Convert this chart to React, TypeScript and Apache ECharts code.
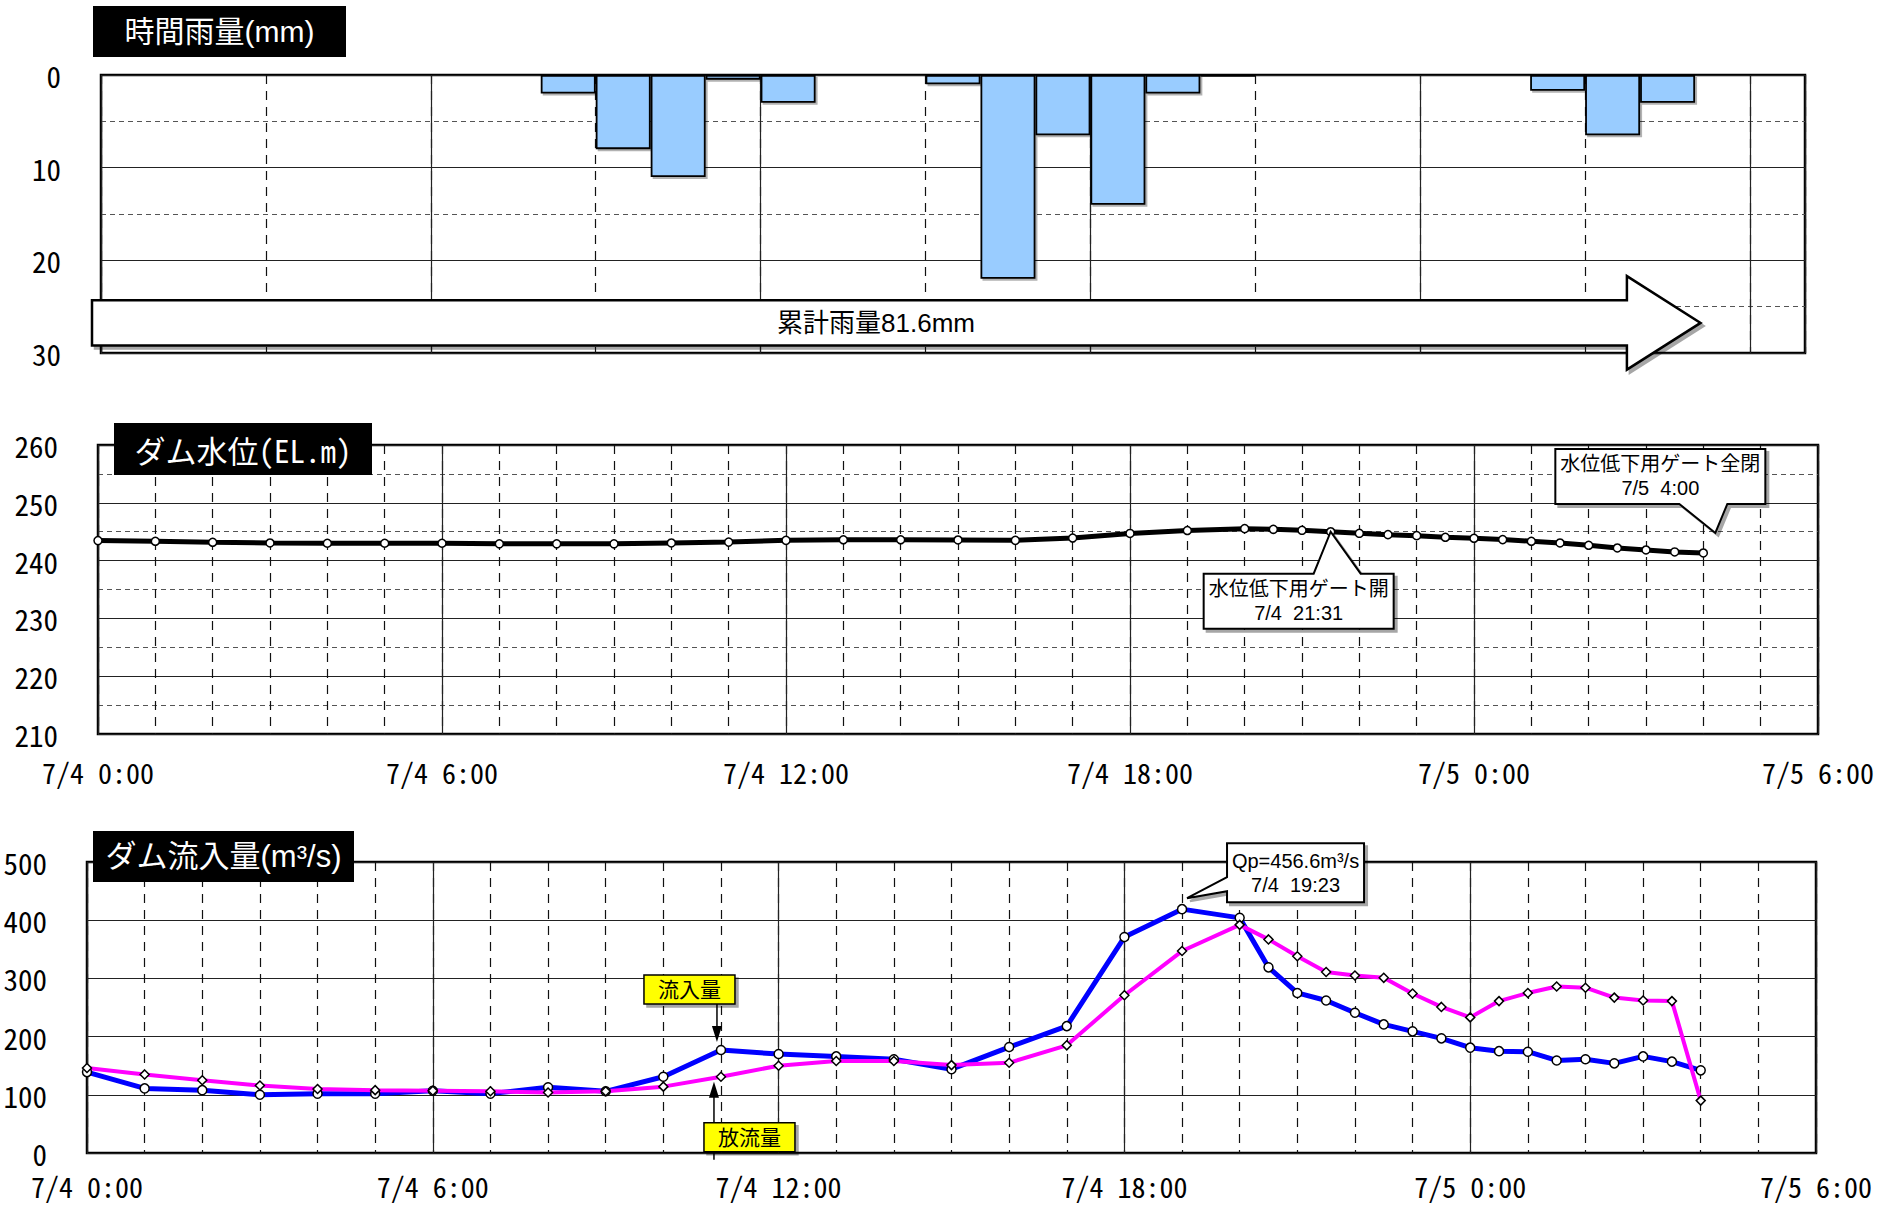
import React, { useEffect, useRef } from "react";
import * as echarts from "echarts";

const MONO = "'Noto Sans Mono CJK JP', 'DejaVu Sans Mono', monospace";
const CJK = "'Liberation Sans', 'Noto Sans CJK JP', sans-serif";

// ---- data ----
const rainCategories = [
  "0:00", "1:00", "2:00", "3:00", "4:00", "5:00", "6:00", "7:00", "8:00", "9:00",
  "10:00", "11:00", "12:00", "13:00", "14:00", "15:00", "16:00", "17:00", "18:00", "19:00",
  "20:00", "21:00", "22:00", "23:00", "0:00+", "1:00+", "2:00+", "3:00+", "4:00+", "5:00+", "6:00+",
];
const rainValues: (number | null)[] = [
  null, null, null, null, null, null, null, 0.1, 2, 8,
  11, 0.5, 3, null, null, 1, 22, 6.5, 14, 2,
  0.2, null, null, 0.1, null, null, 1.7, 6.5, 3, null, null,
];
const rainTotalLabel = "累計雨量81.6mm";

// hours since 7/4 0:00
const times = [
  0, 1, 2, 3, 4, 5, 6, 7, 8, 9, 10, 11, 12, 13, 14, 15, 16, 17, 18, 19, 20,
  20.5, 21, 21.5, 22, 22.5, 23, 23.5, 24, 24.5, 25, 25.5, 26, 26.5, 27, 27.5, 28,
];
const levelValues = [
  243.46, 243.34, 243.17, 243.05, 243.0, 243.0, 243.0, 242.9, 242.9, 242.9, 243.05,
  243.2, 243.5, 243.6, 243.6, 243.57, 243.5, 243.9, 244.7, 245.2, 245.53,
  245.41, 245.24, 245.0, 244.72, 244.49, 244.32, 244.03, 243.86, 243.63, 243.34,
  243.05, 242.65, 242.19, 241.84, 241.5, 241.32,
];
const inflowValues = [
  139, 111, 108, 100, 102, 102, 107, 102, 113, 106, 131, 177, 170, 166, 161, 144,
  182, 218, 371, 419, 404, 319, 275, 262, 241, 221, 209, 197, 181, 175, 174, 159,
  161, 154, 166, 157, 142,
];
const outflowValues = [
  146, 135, 125, 116, 110, 108, 107, 106, 104, 106, 114, 131, 150, 158, 158, 151,
  155, 185, 271, 347, 392, 367, 338, 311, 305, 301, 274, 251, 233, 261, 275, 286,
  284, 267, 262, 261, 90,
];
const xTickLabels = ["7/4 0:00", "7/4 6:00", "7/4 12:00", "7/4 18:00", "7/5 0:00", "7/5 6:00"];

const pair = (vals: number[]) => times.map((t, i) => [t, vals[i]]);

export default function App() {
  const ref = useRef<HTMLDivElement>(null);
  useEffect(() => {
    document.body.style.margin = "0";
    document.body.style.overflow = "hidden";
    const chart = echarts.init(ref.current!, undefined, { renderer: "svg" });

    const dashV = { show: true, lineStyle: { color: "#111", width: 1.2, type: [9, 7] as any } };
    const dashH = { show: true, lineStyle: { color: "#555", width: 1.2, type: [5, 4] as any } };
    const solid = { show: true, lineStyle: { color: "#222", width: 1.2, type: "solid" as any } };
    const hidden = { axisLine: { show: false }, axisTick: { show: false }, axisLabel: { show: false } };
    const yLabel = { show: true, fontSize: 29, lineHeight: 24, fontFamily: MONO, color: "#000", margin: 40 };
    const xLabel = (margin: number) => ({
      show: true, fontSize: 28, lineHeight: 24, fontFamily: MONO, color: "#000", margin,
      formatter: (v: number) => xTickLabels[Math.round(v / 6)] ?? "",
    });

    const option: any = {
      animation: false,
      backgroundColor: "#fff",
      grid: [
        { left: 101, top: 75, width: 1704, height: 278, show: true, borderColor: "#000", borderWidth: 2.5 },
        { left: 98, top: 445, width: 1720, height: 289, show: true, borderColor: "#000", borderWidth: 2.5 },
        { left: 87, top: 862, width: 1729, height: 291, show: true, borderColor: "#000", borderWidth: 2.5 },
      ],
      xAxis: [
        { gridIndex: 0, type: "category", position: "bottom", data: rainCategories, boundaryGap: true, ...hidden, splitLine: { show: false } },
        { gridIndex: 0, type: "value", position: "bottom", min: 0, max: 31, interval: 3, ...hidden, splitLine: dashV },
        { gridIndex: 0, type: "value", position: "bottom", min: 0, max: 31, interval: 6, ...hidden, splitLine: solid },
        { gridIndex: 1, type: "value", position: "bottom", min: 0, max: 30, interval: 1, ...hidden, splitLine: dashV },
        { gridIndex: 1, type: "value", position: "bottom", min: 0, max: 30, interval: 6, axisLine: { show: false }, axisTick: { show: false }, axisLabel: xLabel(26), splitLine: solid },
        { gridIndex: 2, type: "value", position: "bottom", min: 0, max: 30, interval: 6 * 1, ...hidden, splitLine: { show: false } },
        { gridIndex: 2, type: "value", position: "bottom", min: 0, max: 30, interval: 1, ...hidden, splitLine: dashV },
        { gridIndex: 2, type: "value", position: "bottom", min: 0, max: 30, interval: 6, axisLine: { show: false }, axisTick: { show: false }, axisLabel: xLabel(21), splitLine: solid },
      ],
      yAxis: [
        { gridIndex: 0, type: "value", position: "left", inverse: true, min: 0, max: 30, interval: 5, ...hidden, splitLine: dashH },
        { gridIndex: 0, type: "value", position: "left", inverse: true, min: 0, max: 30, interval: 10, axisLine: { show: false }, axisTick: { show: false }, axisLabel: yLabel, splitLine: solid },
        { gridIndex: 1, type: "value", position: "left", min: 210, max: 260, interval: 5, ...hidden, splitLine: dashH },
        { gridIndex: 1, type: "value", position: "left", min: 210, max: 260, interval: 10, axisLine: { show: false }, axisTick: { show: false }, axisLabel: yLabel, splitLine: solid },
        { gridIndex: 2, type: "value", position: "left", min: 0, max: 500, interval: 100, axisLine: { show: false }, axisTick: { show: false }, axisLabel: yLabel, splitLine: solid },
      ],
      series: [
        {
          type: "bar", name: "時間雨量", xAxisIndex: 0, yAxisIndex: 1, data: rainValues,
          barCategoryGap: "0%",
          itemStyle: { color: "#99CCFF", borderColor: "#000", borderWidth: 1.8, shadowColor: "rgba(0,0,0,0.3)", shadowOffsetX: 2, shadowOffsetY: 2 },
        },
        {
          type: "line", name: "ダム水位", xAxisIndex: 4, yAxisIndex: 3, data: pair(levelValues),
          lineStyle: { color: "#000", width: 5 },
          symbol: "circle", symbolSize: 8,
          itemStyle: { color: "#fff", borderColor: "#000", borderWidth: 1.5 },
        },
        {
          type: "line", name: "流入量", xAxisIndex: 7, yAxisIndex: 4, data: pair(inflowValues),
          lineStyle: { color: "#0000FF", width: 5 },
          symbol: "circle", symbolSize: 9,
          itemStyle: { color: "#fff", borderColor: "#000", borderWidth: 1.5 },
        },
        {
          type: "line", name: "放流量", xAxisIndex: 7, yAxisIndex: 4, data: pair(outflowValues),
          lineStyle: { color: "#FF00FF", width: 4 },
          symbol: "diamond", symbolSize: 9,
          itemStyle: { color: "#fff", borderColor: "#000", borderWidth: 1.5 },
        },
      ],
    };
    chart.setOption(option);

    const px = (xi: number, yi: number, x: number, y: number) =>
      chart.convertToPixel({ xAxisIndex: xi, yAxisIndex: yi } as any, [x, y]) as number[];

    const shadow = { shadowColor: "rgba(0,0,0,0.35)", shadowOffsetX: 3, shadowOffsetY: 3, shadowBlur: 0 };
    const boxStyle = { fill: "#fff", stroke: "#000", lineWidth: 2, ...shadow };

    const title = (x: number, y: number, w: number, h: number, text: string, font: string, size: number) => [
      { type: "rect", z: 100, shape: { x, y, width: w, height: h }, style: { fill: "#000" } },
      {
        type: "text", z: 101, x: x + w / 2, y: y + h / 2,
        style: { text, fill: "#fff", fontSize: size, fontFamily: font, align: "center", verticalAlign: "middle" },
      },
    ];

    const text2 = (x: number, y: number, text: string, size = 20) => ({
      type: "text", z: 102, x, y,
      style: { text, fill: "#000", fontSize: size, fontFamily: CJK, align: "center", verticalAlign: "middle", lineHeight: 24 },
    });

    // big cumulative arrow (panel 1)
    const a0 = px(1, 1, 0, 24.3);
    const a1 = px(1, 1, 0, 29.2);
    const aL = a0[0] - 9;
    const headX = px(1, 1, 27.76, 0)[0];
    const tipX = px(1, 1, 29.1, 0)[0];
    const headTop = px(1, 1, 0, 21.7)[1];
    const headBot = px(1, 1, 0, 31.8)[1];
    const midY = (a0[1] + a1[1]) / 2;

    // callouts
    const iGate = times.indexOf(21.5);
    const pA = px(4, 3, 21.5, levelValues[iGate]);
    const iClose = times.indexOf(28);
    const pB = px(4, 3, 28, levelValues[iClose]);
    const iPeak = times.indexOf(19);
    const pC = px(7, 4, 19, inflowValues[iPeak]);
    const i11 = times.indexOf(11);
    const pIn = px(7, 4, 11, inflowValues[i11]);
    const pOut = px(7, 4, 11, outflowValues[i11]);

    const calloutA = {
      type: "polygon", z: 100,
      shape: {
        points: [
          [pA[0] - 127, pA[1] + 42], [pA[0] - 17, pA[1] + 42], [pA[0], pA[1]], [pA[0] + 30, pA[1] + 42],
          [pA[0] + 63, pA[1] + 42], [pA[0] + 63, pA[1] + 97], [pA[0] - 127, pA[1] + 97],
        ],
      },
      style: boxStyle,
    };
    const bx = pB[0] + 4, by = pB[1];
    const calloutB = {
      type: "polygon", z: 100,
      shape: {
        points: [
          [bx - 152, by - 104], [bx + 58, by - 104], [bx + 58, by - 49], [bx + 20, by - 49],
          [bx + 8, by - 20], [bx - 28, by - 49], [bx - 152, by - 49],
        ],
      },
      style: boxStyle,
    };
    const cx = pC[0], cy = pC[1];
    const calloutC = {
      type: "polygon", z: 100,
      shape: {
        points: [
          [cx + 45, cy - 66], [cx + 182, cy - 66], [cx + 182, cy - 7], [cx + 45, cy - 7],
          [cx + 45, cy - 18], [cx + 5, cy - 11], [cx + 45, cy - 32],
        ],
      },
      style: boxStyle,
    };

    const yellow = (x: number, y: number, w: number, h: number, text: string) => [
      { type: "rect", z: 103, shape: { x, y, width: w, height: h }, style: { fill: "#FFFF00", stroke: "#000", lineWidth: 1.5, ...shadow } },
      { type: "text", z: 104, x: x + w / 2, y: y + h / 2, style: { text, fill: "#000", fontSize: 21, fontFamily: CJK, align: "center", verticalAlign: "middle" } },
    ];
    const arrowDown = (x: number, y0: number, y1: number) => [
      { type: "line", z: 102, shape: { x1: x, y1: y0, x2: x, y2: y1 - 12 }, style: { stroke: "#000", lineWidth: 1.5 } },
      { type: "polygon", z: 102, shape: { points: [[x - 5, y1 - 16], [x + 5, y1 - 16], [x, y1]] }, style: { fill: "#000" } },
    ];
    const arrowUp = (x: number, y0: number, y1: number) => [
      { type: "line", z: 102, shape: { x1: x, y1: y0, x2: x, y2: y1 + 12 }, style: { stroke: "#000", lineWidth: 1.5 } },
      { type: "polygon", z: 102, shape: { points: [[x - 5, y1 + 16], [x + 5, y1 + 16], [x, y1]] }, style: { fill: "#000" } },
    ];

    const graphic: any[] = [
      ...title(93, 6, 253, 51, "時間雨量(mm)", CJK, 30),
      ...title(114, 423, 258, 52, "ダム水位(EL.m)", MONO, 31),
      ...title(93, 831, 261, 51, "ダム流入量(m³/s)", CJK, 31),
      {
        type: "polygon", z: 100,
        shape: {
          points: [
            [aL, a0[1]], [headX, a0[1]], [headX, headTop], [tipX, midY], [headX, headBot], [headX, a1[1]], [aL, a1[1]],
          ],
        },
        style: { fill: "#fff", stroke: "#000", lineWidth: 2.5, ...shadow },
      },
      {
        type: "text", z: 101, x: px(1, 1, 14.1, 0)[0], y: midY,
        style: { text: rainTotalLabel, fill: "#000", fontSize: 26, fontFamily: CJK, align: "center", verticalAlign: "middle" },
      },
      calloutA,
      text2(pA[0] - 32, pA[1] + 69.5, "水位低下用ゲート開\n7/4  21:31"),
      calloutB,
      text2(bx - 47, by - 76.5, "水位低下用ゲート全閉\n7/5  4:00"),
      calloutC,
      text2(cx + 113.5, cy - 36.5, "Qp=456.6m³/s\n7/4  19:23"),
      ...arrowDown(pIn[0] - 4, pIn[1] - 46, pIn[1] - 8),
      ...yellow(pIn[0] - 77, pIn[1] - 75, 91, 29, "流入量"),
      ...arrowUp(pOut[0] - 7, pOut[1] + 83, pOut[1] + 5),
      ...yellow(pOut[0] - 17, pOut[1] + 46, 91, 29, "放流量"),
    ];
    chart.setOption({ graphic });

    return () => chart.dispose();
  }, []);
  return <div ref={ref} style={{ width: 1894, height: 1206 }} />;
}
